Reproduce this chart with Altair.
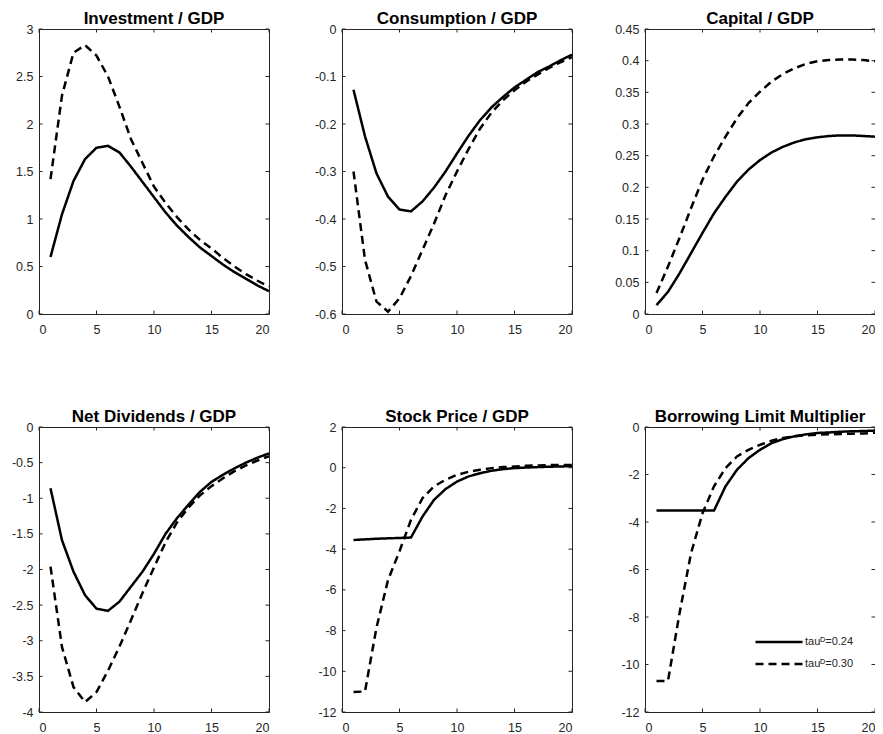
import altair as alt
import pandas as pd

# ---------------- data ----------------
periods = list(range(1, 21))
series_labels = ["tau\u1d30=0.24", "tau\u1d30=0.30"]
titles = ["Investment / GDP", "Consumption / GDP", "Capital / GDP",
          "Net Dividends / GDP", "Stock Price / GDP", "Borrowing Limit Multiplier"]

inv_024 = [0.60, 1.05, 1.40, 1.63, 1.75, 1.77, 1.70, 1.55, 1.39, 1.23,
           1.07, 0.93, 0.81, 0.70, 0.61, 0.52, 0.44, 0.37, 0.30, 0.24]
inv_030 = [1.42, 2.30, 2.75, 2.83, 2.72, 2.50, 2.18, 1.84, 1.59, 1.34,
           1.17, 1.02, 0.89, 0.78, 0.69, 0.59, 0.50, 0.42, 0.35, 0.29]

cons_024 = [-0.128, -0.226, -0.304, -0.353, -0.380, -0.384, -0.363, -0.334, -0.300, -0.262,
            -0.225, -0.192, -0.165, -0.143, -0.123, -0.107, -0.091, -0.079, -0.066, -0.054]
cons_030 = [-0.300, -0.486, -0.574, -0.595, -0.567, -0.520, -0.465, -0.410, -0.350, -0.300,
            -0.253, -0.210, -0.176, -0.150, -0.129, -0.111, -0.096, -0.082, -0.070, -0.059]

cap_024 = [0.014, 0.035, 0.064, 0.096, 0.128, 0.159, 0.185, 0.209, 0.228, 0.243,
           0.255, 0.264, 0.271, 0.276, 0.279, 0.281, 0.282, 0.282, 0.281, 0.280]
cap_030 = [0.033, 0.075, 0.120, 0.167, 0.212, 0.249, 0.280, 0.309, 0.333, 0.351,
           0.367, 0.379, 0.388, 0.395, 0.399, 0.401, 0.402, 0.402, 0.401, 0.399]

div_024 = [-0.86, -1.59, -2.03, -2.36, -2.55, -2.58, -2.45, -2.24, -2.03, -1.78,
           -1.50, -1.28, -1.09, -0.91, -0.77, -0.67, -0.58, -0.50, -0.43, -0.37]
div_030 = [-1.96, -3.09, -3.65, -3.86, -3.72, -3.42, -3.08, -2.71, -2.33, -1.97,
           -1.62, -1.34, -1.13, -0.96, -0.83, -0.72, -0.62, -0.54, -0.47, -0.41]

stock_024 = [-3.55, -3.52, -3.49, -3.47, -3.45, -3.43, -2.40, -1.58, -1.05, -0.68,
             -0.43, -0.27, -0.15, -0.07, -0.02, 0.01, 0.03, 0.05, 0.06, 0.08]
stock_030 = [-11.02, -10.99, -7.85, -5.52, -4.10, -2.56, -1.50, -0.92, -0.59, -0.35,
             -0.20, -0.10, -0.02, 0.03, 0.06, 0.10, 0.11, 0.13, 0.14, 0.13]

borrow_024 = [-3.52, -3.52, -3.52, -3.52, -3.52, -3.52, -2.50, -1.80, -1.31, -0.96,
              -0.68, -0.51, -0.39, -0.31, -0.25, -0.23, -0.20, -0.18, -0.17, -0.15]
borrow_030 = [-10.69, -10.69, -7.85, -5.32, -3.63, -2.50, -1.73, -1.24, -0.96, -0.75,
              -0.58, -0.46, -0.39, -0.35, -0.32, -0.31, -0.30, -0.28, -0.27, -0.24]

series = [(inv_024, inv_030), (cons_024, cons_030), (cap_024, cap_030),
          (div_024, div_030), (stock_024, stock_030), (borrow_024, borrow_030)]

y_domains = [[0, 3], [-0.6, 0], [0, 0.45], [-4, 0], [-12, 2], [-12, 0]]
y_ticks = [
    [0, 0.5, 1, 1.5, 2, 2.5, 3],
    [-0.6, -0.5, -0.4, -0.3, -0.2, -0.1, 0],
    [0, 0.05, 0.1, 0.15, 0.2, 0.25, 0.3, 0.35, 0.4, 0.45],
    [-4, -3.5, -3, -2.5, -2, -1.5, -1, -0.5, 0],
    [-12, -10, -8, -6, -4, -2, 0, 2],
    [-12, -10, -8, -6, -4, -2, 0],
]
x_domain = [0, 20]
x_ticks = [0, 5, 10, 15, 20]

# ---------------- style ----------------
W, H = 230, 285
TICK = 3.5
AX = "#262626"
FONT = "Liberation Sans"

legend = alt.Legend(
    orient="none", legendX=715, legendY=606, title=None,
    symbolType="stroke", symbolSize=2209, symbolStrokeWidth=2.5,
    symbolStrokeColor="black", labelFontSize=11, labelColor=AX,
    labelFont=FONT, labelOffset=1, clipHeight=14, rowPadding=8, padding=0,
)


def panel(i):
    s1, s2 = series[i]
    df = pd.DataFrame({
        "t": periods * 2,
        "v": list(s1) + list(s2),
        "case": [series_labels[0]] * len(s1) + [series_labels[1]] * len(s2),
    })
    xs = alt.Scale(domain=x_domain, nice=False, zero=False)
    ys = alt.Scale(domain=y_domains[i], nice=False, zero=False)
    xaxis = alt.Axis(values=x_ticks, labelExpr="'' + datum.value", title=None,
                     labelPadding=9)
    yaxis = alt.Axis(values=y_ticks[i], labelExpr="'' + datum.value", title=None,
                     labelPadding=6)

    lines = alt.Chart(df).mark_line(color="black", strokeWidth=2.5).encode(
        x=alt.X("t:Q", scale=xs, axis=xaxis),
        y=alt.Y("v:Q", scale=ys, axis=yaxis),
        strokeDash=alt.StrokeDash(
            "case:N",
            scale=alt.Scale(domain=series_labels, range=[[1, 0], [8, 5]]),
            legend=legend,
        ),
        order=alt.Order("t:Q"),
    )

    dfx = pd.DataFrame({"t": x_ticks})
    dfy = pd.DataFrame({"v": y_ticks[i]})
    rule_x = alt.Chart(dfx).mark_rule(color=AX, strokeWidth=1)
    rule_y = alt.Chart(dfy).mark_rule(color=AX, strokeWidth=1)
    tb = rule_x.encode(x=alt.X("t:Q", scale=xs, axis=xaxis), y=alt.value(H), y2=alt.value(H - TICK))
    tt = rule_x.encode(x=alt.X("t:Q", scale=xs, axis=xaxis), y=alt.value(0), y2=alt.value(TICK))
    tl = rule_y.encode(y=alt.Y("v:Q", scale=ys, axis=yaxis), x=alt.value(0), x2=alt.value(TICK))
    tr = rule_y.encode(y=alt.Y("v:Q", scale=ys, axis=yaxis), x=alt.value(W), x2=alt.value(W - TICK))

    return alt.layer(tb, tt, tl, tr, lines).properties(
        width=W, height=H,
        title=alt.TitleParams(titles[i], anchor="middle", frame="group",
                              baseline="alphabetic", offset=-18, fontSize=17,
                              fontWeight="bold", font=FONT, color="black"),
    )


chart = alt.concat(
    *[panel(i) for i in range(6)], columns=3,
    spacing={"row": 113, "column": 73}, bounds="flush",
).properties(
    autosize=alt.AutoSizeParams(type="none"),
    padding={"left": 31, "top": 21, "right": 836, "bottom": 710},
).configure_axis(
    grid=False, ticks=False, domainColor=AX, domainWidth=1,
    labelColor=AX, labelFont=FONT, labelFontSize=12.5,
).configure_view(stroke=AX, strokeWidth=1)

chart.save("out.html", embed_options={"renderer": "svg", "actions": False})
